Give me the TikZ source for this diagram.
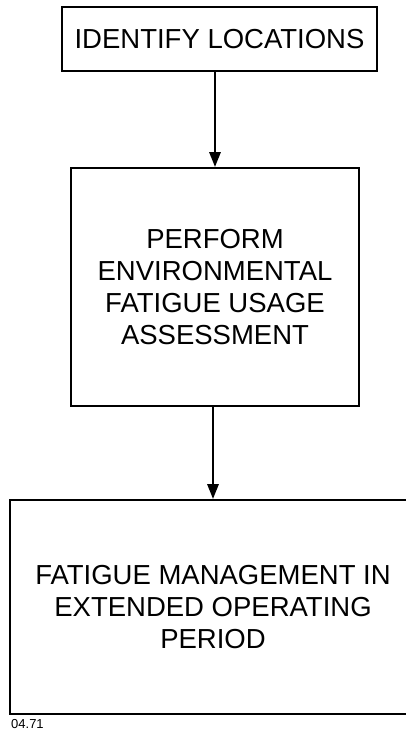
\documentclass[tikz,border=0pt]{standalone}
\usepackage{fontspec}
\setmainfont{Liberation Sans}
\usetikzlibrary{arrows.meta}
\begin{document}
\begin{tikzpicture}[x=1pt,y=-1pt,
  box/.style={draw=black, line width=1.8pt, align=center, inner sep=0pt,
    font=\fontsize{27.5}{32}\selectfont},
  flow/.style={line width=2.8pt, -{Triangle[length=15pt,width=11pt]}}]
\useasboundingbox (0,0) rectangle (406,732);
\node[box, minimum width=315pt, minimum height=64pt] (b1) at (219.5,39) {IDENTIFY LOCATIONS};
\node[box, minimum width=288pt, minimum height=238pt] (b2) at (215,287) {PERFORM\\ENVIRONMENTAL\\FATIGUE USAGE\\ASSESSMENT};
\node[box, minimum width=406pt, minimum height=214pt] (b3) at (213,607) {FATIGUE MANAGEMENT IN\\EXTENDED OPERATING\\PERIOD};
\node[anchor=west, inner sep=0pt, font=\fontsize{13}{15}\selectfont] (lbl) at (11,724) {04.71};
\draw[flow] (b2.north |- b1.south) -- (b2.north);
\draw[flow] (b3.north |- b2.south) -- (b3.north);
\end{tikzpicture}
\end{document}
